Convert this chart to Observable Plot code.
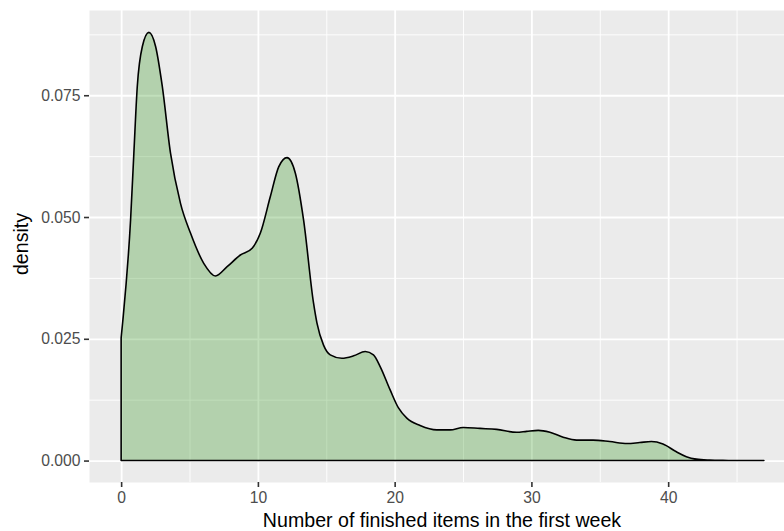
<!DOCTYPE html>
<html>
<head>
<meta charset="utf-8">
<script src="https://cdn.jsdelivr.net/npm/d3@7"></script>
<script src="https://cdn.jsdelivr.net/npm/@observablehq/plot@0.6"></script>
<style>
  html, body { margin: 0; padding: 0; background: white; }
</style>
</head>
<body>
<div id="chart"></div>
<script>
// Density estimate
const xs = [0, 0.13, 0.69, 0.93, 1.18, 1.55, 2.03, 2.52, 3.01, 3.61, 4.34, 5.07, 6.04, 6.90, 7.75, 8.72, 9.58, 10.18, 10.91, 11.52, 12.13, 12.74, 13.34, 14.07, 14.32, 14.8, 15.29, 16.14, 17.0, 17.85, 18.45, 18.94, 19.67, 20.28, 20.89, 21.86, 23.08, 24.05, 25.02, 26.24, 27.46, 28.92, 29.65, 30.5, 31.35, 32.32, 33.3, 34.51, 35.73, 37.0, 37.92, 38.77, 39.62, 40.6, 41.33, 42.06, 43.03, 44, 45, 46, 47];
const dens = [0.0252, 0.0289, 0.0494, 0.0631, 0.0768, 0.085, 0.0879, 0.085, 0.0768, 0.0631, 0.0528, 0.0467, 0.0405, 0.0379, 0.0398, 0.0422, 0.0436, 0.0467, 0.0542, 0.0603, 0.0622, 0.059, 0.0494, 0.0323, 0.0282, 0.0237, 0.0217, 0.021, 0.0215, 0.0224, 0.0217, 0.0193, 0.0145, 0.0108, 0.0087, 0.0072, 0.0063, 0.0063, 0.0068, 0.0066, 0.0064, 0.0058, 0.006, 0.0062, 0.0058, 0.0048, 0.0042, 0.0042, 0.0039, 0.0035, 0.0037, 0.0039, 0.0034, 0.0018, 0.0008, 0.0003, 0.0001, 0.00003, 0.00001, 0, 0];

const xTicks = [0, 10, 20, 30, 40];
const xMinor = [5, 15, 25, 35, 45];
const yTicks = [0, 0.025, 0.05, 0.075];
const yMinor = [0.0125, 0.0375, 0.0625, 0.0875];
const xTitle = "Number of finished items in the first week";
const yTitle = "density";

const data = xs.map((x, i) => ({x, d: dens[i]}));

const font = "'Liberation Sans', Arial, Helvetica, sans-serif";

const chart = Plot.plot({
  width: 784,
  height: 531,
  marginLeft: 89,
  marginRight: 0,
  marginTop: 10,
  marginBottom: 49,
  x: {domain: [-2.35, 48.47]},
  y: {domain: [-0.0044, 0.0925]},
  style: {fontFamily: font, background: "white"},
  marks: [
    Plot.frame({fill: "#EBEBEB", stroke: null}),
    Plot.ruleX(xMinor, {stroke: "white", strokeWidth: 0.9}),
    Plot.ruleY(yMinor, {stroke: "white", strokeWidth: 0.9}),
    Plot.ruleX(xTicks, {stroke: "white", strokeWidth: 1.8}),
    Plot.ruleY(yTicks, {stroke: "white", strokeWidth: 1.8}),
    Plot.areaY(data, {x: "x", y: "d", fill: "rgb(50,150,30)", fillOpacity: 0.3, stroke: "black", strokeWidth: 1.6, curve: "monotone-x"}),
    Plot.axisX(xTicks, {tickSize: 5, tickPadding: 4, fontSize: 15.7, stroke: "#333333", fill: "#4D4D4D", strokeWidth: 1.6, label: null}),
    Plot.axisY(yTicks, {tickSize: 5, tickPadding: 4, fontSize: 15.7, stroke: "#333333", fill: "#4D4D4D", strokeWidth: 1.6, tickFormat: d3.format(".3f"), label: null})
  ]
});

const svg = d3.select(chart);
svg.append("text")
  .attr("x", 442).attr("y", 527)
  .attr("text-anchor", "middle")
  .attr("font-family", font)
  .attr("font-size", 19.6)
  .attr("fill", "black")
  .text(xTitle);
svg.append("text")
  .attr("transform", "translate(28,244) rotate(-90)")
  .attr("text-anchor", "middle")
  .attr("font-family", font)
  .attr("font-size", 19.6)
  .attr("fill", "black")
  .text(yTitle);

document.getElementById("chart").appendChild(chart);
</script>
</body>
</html>
